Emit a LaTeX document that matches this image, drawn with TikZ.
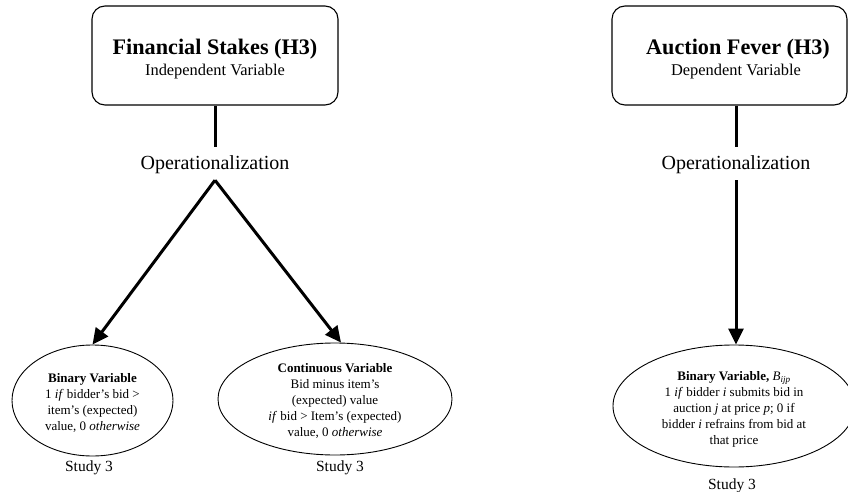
\documentclass[tikz,border=0pt]{standalone}
\usepackage{fontspec}
\setmainfont{Liberation Serif}
\usetikzlibrary{arrows.meta,shapes.geometric}
\begin{document}
\begin{tikzpicture}[x=1pt,y=-1pt,
  hbox/.style={draw, line width=1.1pt, rounded corners=13pt, minimum width=246pt, minimum height=99pt, inner sep=0},
  titletext/.style={font=\fontsize{22.2}{26}\selectfont\bfseries, inner sep=0, anchor=base},
  subtext/.style={font=\fontsize{16.4}{19}\selectfont, inner sep=0, anchor=base},
  oplabel/.style={font=\fontsize{20}{24}\selectfont, inner sep=0, anchor=base, text height=22pt, text depth=11pt},
  oval/.style={draw, ellipse, line width=0.9pt, inner sep=0},
  ovaltext/.style={align=center, font=\fontsize{13}{16}\selectfont, inner sep=0},
  studylbl/.style={font=\fontsize{15.5}{18}\selectfont, inner sep=0, anchor=base},
  conn/.style={line width=3pt},
  arr/.style={conn, -{Triangle[length=16pt,width=15pt]}}]
\useasboundingbox (0,0) rectangle (848,492);

% left box
\node[hbox] (fs) at (215,55.5) {};
\node[titletext] (fsT) at (215,54.5) {Financial Stakes (H3)};
\node[subtext] (fsS) at (215,76) {Independent Variable};
\node[oplabel] (op1) at (215,169) {Operationalization};

% right box
\node[hbox, minimum width=235pt] (af) at (729.5,55.5) {};
\node[titletext] (afT) at (738,54.5) {Auction Fever (H3)};
\node[subtext] (afS) at (736,76) {Dependent Variable};
\node[oplabel] (op2) at (736,169) {Operationalization};

% ellipses
\node[oval, minimum width=161pt, minimum height=111pt] (bin) at (92.5,400.5) {};
\node[ovaltext] (binT) at (92.5,403) {\textbf{Binary Variable}\\1 \textit{if} bidder’s bid >\\item’s (expected)\\value, 0 \textit{otherwise}};
\node[studylbl] (s1) at (89,471.5) {Study 3};

\node[oval, minimum width=234pt, minimum height=112pt] (cont) at (335,399) {};
\node[ovaltext] (contT) at (335,401) {\textbf{Continuous Variable}\\Bid minus item’s\\(expected) value\\\textit{if} bid > Item’s (expected)\\value, 0 \textit{otherwise}};
\node[studylbl] (s2) at (340,471.5) {Study 3};

\node[oval, minimum width=242pt, minimum height=122pt] (bin2) at (734,406) {};
\node[ovaltext] (bin2T) at (734,409) {\textbf{Binary Variable,} \textit{B}\textsubscript{\textit{ijp}}\\1 \textit{if} bidder \textit{i} submits bid in\\auction \textit{j} at price \textit{p}; 0 if\\bidder \textit{i} refrains from bid at\\that price};
\node[studylbl] (s3) at (732,489.5) {Study 3};

% connectors
\draw[conn] (fs.south) -- (op1.north);
\draw[arr] (op1.south) -- (bin.north);
\draw[arr] (op1.south) -- ([xshift=6pt]cont.north);
\draw[conn] (af.south -| op2.north) -- (op2.north);
\draw[arr] (op2.south) -- (op2.south |- bin2.north);
\end{tikzpicture}
\end{document}
